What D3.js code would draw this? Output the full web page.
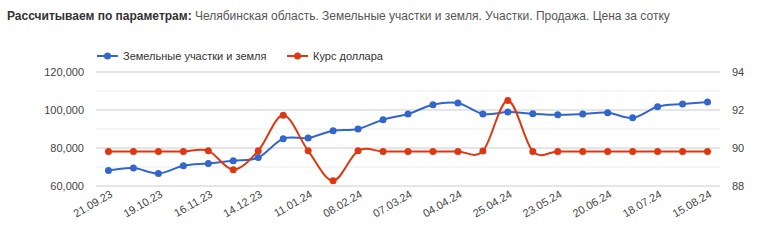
<!DOCTYPE html>
<html>
<head>
<meta charset="utf-8">
<script src="https://cdn.jsdelivr.net/npm/d3@7"></script>
<style>
  body { margin: 0; background: #fff; }
  svg { font-family: Arial, "Liberation Sans", sans-serif; }
</style>
</head>
<body>
<div id="container"></div>
<script>
/* DATA */
const dates = ["21.09.23", "05.10.23", "19.10.23", "02.11.23", "16.11.23", "30.11.23", "14.12.23",
  "28.12.23", "11.01.24", "25.01.24", "08.02.24", "22.02.24", "07.03.24", "21.03.24", "04.04.24",
  "14.04.24", "25.04.24", "09.05.24", "23.05.24", "06.06.24", "20.06.24", "04.07.24", "18.07.24",
  "01.08.24", "15.08.24"]
// цена за сотку, руб.
const landPrice = [68200, 69500, 66600, 70700, 71900, 73300, 75000, 84900, 85300, 89100, 90000,
  94900, 97900, 102800, 103700, 97900, 98900, 98000, 97500, 97900, 98600, 95900, 101700, 103100, 104200]
// курс доллара
const usdRate = [89.82, 89.82, 89.82, 89.82, 89.85, 88.86, 89.85, 91.72, 89.85, 88.28, 89.85,
  89.82, 89.82, 89.82, 89.82, 89.84, 92.5, 89.82, 89.82, 89.82, 89.82, 89.82, 89.82, 89.82, 89.82]
const leftTicks = [60000, 80000, 100000, 120000]
const leftMinor = [70000, 90000, 110000]
const rightTicks = [88, 90, 92, 94]
const seriesNames = ["Земельные участки и земля", "Курс доллара"]

/* CONSTANTS */
const width = 760, height = 240,
  margin = { top: 72, bottom: 54, left: 96, right: 40 },
  colors = { land: '#3366cc', usd: '#dc3912' }

const svg = d3.select("#container")
  .append("svg")
  .attr("width", width)
  .attr("height", height)

/* SCALES */
const xScale = d3.scaleBand()
  .domain(dates)
  .range([margin.left, width - margin.right])
const xc = d => xScale(d) + xScale.bandwidth() / 2

const yLeft = d3.scaleLinear()
  .domain([60000, 120000])
  .range([height - margin.bottom, margin.top])

const yRight = d3.scaleLinear()
  .domain([88, 94])
  .range([height - margin.bottom, margin.top])

/* TITLE */
const title = svg.append("text")
  .attr("x", 7)
  .attr("y", 20)
  .attr("font-size", 12)
title.append("tspan").attr("font-weight", "bold").attr("fill", "#333").text("Рассчитываем по параметрам:")
title.append("tspan").attr("fill", "#555").text(" Челябинская область. Земельные участки и земля. Участки. Продажа. Цена за сотку")

/* GRID */
svg.append("g")
  .selectAll("line")
  .data(leftMinor)
  .join("line")
  .attr("x1", margin.left).attr("x2", width - margin.right)
  .attr("y1", d => yLeft(d)).attr("y2", d => yLeft(d))
  .attr("stroke", "#ebebeb")

svg.append("g")
  .selectAll("line")
  .data(leftTicks)
  .join("line")
  .attr("x1", margin.left).attr("x2", width - margin.right)
  .attr("y1", d => yLeft(d)).attr("y2", d => yLeft(d))
  .attr("stroke", "#cccccc")

/* AXES */
const yAxisL = d3.axisLeft(yLeft).tickValues(leftTicks).tickSize(0).tickPadding(12).tickFormat(d3.format(","))
svg.append("g")
  .attr("transform", `translate(${margin.left},0)`)
  .call(yAxisL)
  .call(g => g.select(".domain").remove())
  .call(g => g.selectAll("text").attr("fill", "#444").attr("font-size", 11).attr("font-family", null))

const yAxisR = d3.axisRight(yRight).tickValues(rightTicks).tickSize(0).tickPadding(12).tickFormat(d3.format("d"))
svg.append("g")
  .attr("transform", `translate(${width - margin.right},0)`)
  .call(yAxisR)
  .call(g => g.select(".domain").remove())
  .call(g => g.selectAll("text").attr("fill", "#444").attr("font-size", 11).attr("font-family", null))

// x labels, every second date, slanted
svg.append("g")
  .selectAll("text")
  .data(dates.filter((d, i) => i % 2 === 0))
  .join("text")
  .attr("transform", d => `translate(${xc(d) + 3},${height - margin.bottom + 7}) rotate(-30)`)
  .attr("text-anchor", "end")
  .attr("dy", "0.35em")
  .attr("font-size", 11)
  .attr("fill", "#444")
  .text(d => d)

/* LINES */
const lineLand = d3.line()
  .x((d, i) => xc(dates[i]))
  .y(d => yLeft(d))
  .curve(d3.curveCardinal.tension(0))

const lineUsd = d3.line()
  .x((d, i) => xc(dates[i]))
  .y(d => yRight(d))
  .curve(d3.curveCardinal.tension(0))

svg.append("path")
  .datum(landPrice)
  .attr("d", lineLand)
  .attr("fill", "none")
  .attr("stroke", colors.land)
  .attr("stroke-width", 2)

svg.append("path")
  .datum(usdRate)
  .attr("d", lineUsd)
  .attr("fill", "none")
  .attr("stroke", colors.usd)
  .attr("stroke-width", 2)

svg.append("g")
  .selectAll("circle")
  .data(landPrice)
  .join("circle")
  .attr("cx", (d, i) => xc(dates[i]))
  .attr("cy", d => yLeft(d))
  .attr("r", 3.5)
  .attr("fill", colors.land)

svg.append("g")
  .selectAll("circle")
  .data(usdRate)
  .join("circle")
  .attr("cx", (d, i) => xc(dates[i]))
  .attr("cy", d => yRight(d))
  .attr("r", 3.5)
  .attr("fill", colors.usd)

/* LEGEND */
const legendItems = [
  { name: seriesNames[0], color: colors.land, x: 97 },
  { name: seriesNames[1], color: colors.usd, x: 287 }
]
const legend = svg.append("g")
  .selectAll("g")
  .data(legendItems)
  .join("g")
  .attr("transform", d => `translate(${d.x},56)`)
legend.append("line")
  .attr("x1", 0).attr("x2", 21)
  .attr("stroke", d => d.color)
  .attr("stroke-width", 2)
legend.append("circle")
  .attr("cx", 10.5)
  .attr("r", 3.5)
  .attr("fill", d => d.color)
legend.append("text")
  .attr("x", 26)
  .attr("dy", "0.35em")
  .attr("font-size", 11)
  .attr("fill", "#333")
  .text(d => d.name)
</script>
</body>
</html>
